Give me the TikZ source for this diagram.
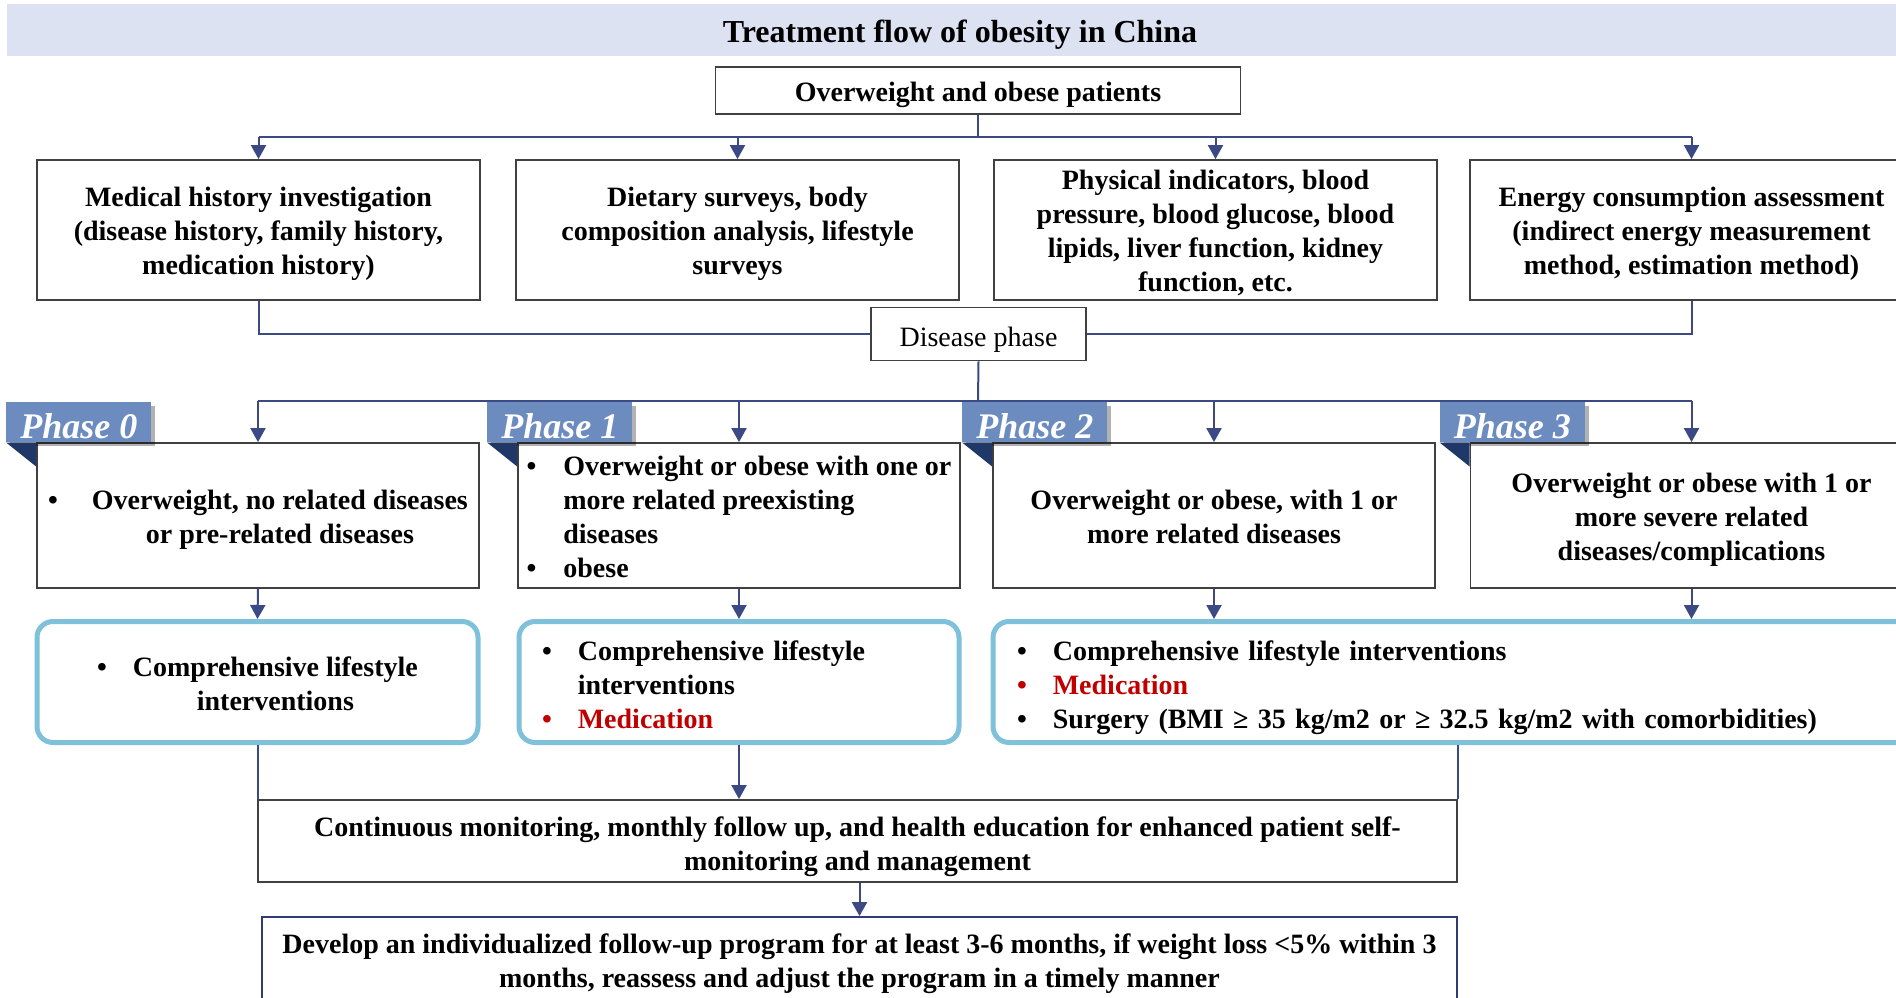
\documentclass[tikz,border=0pt]{standalone}
\usepackage{fontspec}
\setmainfont{Liberation Serif}
\usetikzlibrary{arrows.meta,shadows,calc}
\definecolor{band}{RGB}{221,226,243}
\definecolor{wire}{RGB}{59,74,133}
\definecolor{edge}{RGB}{64,64,64}
\definecolor{finedge}{RGB}{47,60,120}
\definecolor{tag}{RGB}{108,140,191}
\definecolor{tagdark}{RGB}{31,56,104}
\definecolor{treat}{RGB}{127,193,219}
\definecolor{med}{RGB}{192,0,0}
\newcommand{\flowtext}{\fontsize{28}{34}\selectfont\bfseries}
% lower a block of text without changing the size it reports
\newcommand{\flowdrop}[2][5pt]{\raisebox{-#1}[\height][\depth]{#2}}
\newcommand{\flowlines}[2][5pt]{\flowdrop[#1]{\begin{tabular}{@{}c@{}}#2\end{tabular}}}
\begin{document}
\begin{tikzpicture}[x=1pt,y=-1pt,
  box/.style={draw=edge,line width=1.8pt,fill=white,inner sep=0pt,align=center,font=\flowtext},
  treatbox/.style={draw=treat,line width=5pt,rounded corners=16pt,fill=white,inner sep=0pt,font=\flowtext},
  wireline/.style={draw=wire,line width=2pt},
  arr/.style={wireline,-{Triangle[width=15pt,length=14pt]}},
  phasetag/.style={fill=tag,text=white,font=\fontsize{36}{36}\selectfont\bfseries\itshape,
    minimum width=145pt,minimum height=40pt,inner sep=0pt,anchor=north west,
    drop shadow={shadow xshift=4pt,shadow yshift=-4pt,fill=black,opacity=0.3}},
]
\useasboundingbox (0,0) rectangle (1896,998);
\fill[white] (0,0) rectangle (1896,998);
\clip (0,0) rectangle (1896,998);

% title band
\node[fill=band,minimum width=1906pt,minimum height=52pt,inner sep=0pt,
      font=\fontsize{32}{38}\selectfont\bfseries] (title) at (960,30) {\flowdrop{Treatment flow of obesity in China}};

% entry
\node[box,minimum width=525pt,minimum height=47pt] (patients) at (978,90.5) {\flowdrop[4pt]{Overweight and obese patients}};

% assessments
\node[box,minimum width=443pt,minimum height=140pt] (hist) at (258.5,230)
  {\flowlines[4pt]{Medical history investigation\\(disease history, family history,\\medication history)}};
\node[box,minimum width=443pt,minimum height=140pt] (diet) at (737.5,230)
  {\flowlines[4pt]{Dietary surveys, body\\composition analysis, lifestyle\\surveys}};
\node[box,minimum width=443pt,minimum height=140pt] (phys) at (1215.5,230)
  {\flowlines[4pt]{Physical indicators, blood\\pressure, blood glucose, blood\\lipids, liver function, kidney\\function, etc.}};
\node[box,minimum width=443pt,minimum height=140pt] (energy) at (1691.5,230)
  {\flowlines[4pt]{Energy consumption assessment\\(indirect energy measurement\\method, estimation method)}};

\node[box,font=\fontsize{28}{34}\selectfont,minimum width=215pt,minimum height=53pt] (phase) at (978.5,334) {\flowdrop[6pt]{Disease phase}};

\coordinate (split1) at (978,137);
\draw[wireline] (patients.south) -- (split1);
\draw[wireline] (hist.north |- split1) -- (energy.north |- split1);
\foreach \n in {hist,diet,phys,energy} \draw[arr] (\n.north |- split1) -- (\n.north);
\draw[wireline] (hist.south) |- (phase.west);
\draw[wireline] (energy.south) |- (phase.east);

% disease phases
\node[box,minimum width=442pt,minimum height=145pt] (p0) at (258,515.5)
  {\flowdrop[4pt]{\begin{tabular}{@{}l@{\hspace{34pt}}c@{}}\textbullet & Overweight, no related diseases\\ & or pre-related diseases\end{tabular}}};
\node[box,minimum width=442pt,minimum height=145pt] (p1) at (739,515.5)
  {\flowdrop[4pt]{\begin{tabular}{@{}l@{\hspace{27pt}}l@{}}\textbullet & Overweight or obese with one or\\ & more related preexisting\\ & diseases\\ \textbullet & obese\end{tabular}}};
\node[box,minimum width=442pt,minimum height=145pt] (p2) at (1214,515.5)
  {\flowlines[4pt]{Overweight or obese, with 1 or\\more related diseases}};
\node[box,minimum width=442pt,minimum height=145pt] (p3) at (1691.5,515.5)
  {\flowlines[4pt]{Overweight or obese with 1 or\\more severe related\\diseases/complications}};

\coordinate (split2) at (978,401);
\draw[wireline] (phase.south) -- (split2);
\draw[wireline] (p0.north |- split2) -- (p3.north |- split2);
\foreach \n in {p0,p1,p2,p3} \draw[arr] (\n.north |- split2) -- (\n.north);

% phase tags with folded corner
\foreach \n/\lbl in {p0/Phase 0,p1/Phase 1,p2/Phase 2,p3/Phase 3}{
  \node[phasetag] (tag\n) at ($(\n.north west)+(-30,-40)$) {\flowdrop[4pt]{\lbl}};
  \fill[tagdark] (tag\n.south west) -- (tag\n.south west -| \n.west) -- ++(0,24) -- cycle;
}

% treatments
\node[treatbox,minimum width=441pt,minimum height=121pt] (t0) at (257.5,682)
  {\flowdrop{\begin{tabular}{@{}l@{\hspace{26pt}}c@{}}\textbullet & Comprehensive lifestyle\\ & interventions\end{tabular}}};
\node[treatbox,minimum height=121pt,text width=394pt,inner xsep=23pt,align=left] (t1) at (739,682)
  {\noindent\flowdrop[6pt]{\begin{tabular}{@{}l@{\hspace{26pt}}l@{}}\textbullet & Comprehensive lifestyle\\ & interventions\\ \textcolor{med}{\textbullet} & \textcolor{med}{Medication}\end{tabular}}};
\node[treatbox,minimum height=121pt,text width=900pt,inner xsep=24pt,align=left,anchor=west] (t2) at (990.5,682)
  {\noindent\flowdrop[6pt]{\begin{tabular}{@{}l@{\hspace{26pt}}l@{}}\textbullet & Comprehensive lifestyle interventions\\ \textcolor{med}{\textbullet} & \textcolor{med}{Medication}\\ \textbullet & Surgery (BMI ≥ 35 kg/m2 or ≥ 32.5 kg/m2 with comorbidities)\end{tabular}}};

\foreach \a/\b in {p0/t0,p1/t1} \draw[arr] (\a.south) -- (\b.north);
\draw[arr] (p2.south) -- (p2.south |- t2.north);
\draw[arr] (p3.south) -- (p3.south |- t2.north);

% follow-up
\node[box,minimum width=1199pt,minimum height=82pt] (mon) at (857.5,841)
  {\flowlines[6pt]{Continuous monitoring, monthly follow up, and health education for enhanced patient self-\\monitoring and management}};
\node[box,draw=finedge,minimum width=1195pt,minimum height=87pt] (fin) at (859.5,960.5)
  {\flowlines[3pt]{Develop an individualized follow-up program for at least 3-6 months, if weight loss <5\% within 3\\months, reassess and adjust the program in a timely manner}};

\draw[wireline] (t0.south) -- (t0.south |- mon.north);
\draw[arr] (t1.south) -- (t1.south |- mon.north);
\draw[wireline] (mon.north east |- t2.south) -- (mon.north east);
\draw[arr] (fin.north |- mon.south) -- (fin.north);
\end{tikzpicture}
\end{document}
